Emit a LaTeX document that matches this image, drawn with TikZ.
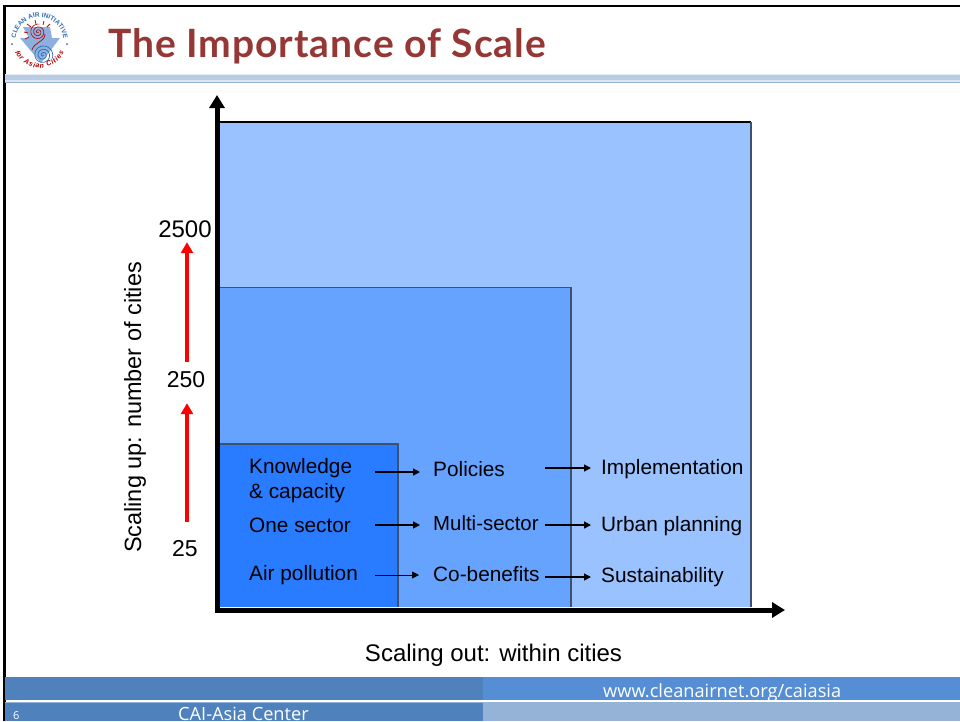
\documentclass[tikz,border=0pt]{standalone}
\usepackage{fontspec}
\setmainfont{Liberation Sans}
\newfontfamily\titlefont[LetterSpace=2.5]{Lato}
\newfontfamily\footfont{Open Sans}
\usetikzlibrary{arrows.meta,decorations.text}
\definecolor{titlered}{HTML}{953735}
\definecolor{barblue}{HTML}{B8CCE4}
\definecolor{footblue}{HTML}{4F81BD}
\definecolor{footmid}{HTML}{558ED5}
\definecolor{footpale}{HTML}{95B3D7}
\definecolor{boxlarge}{HTML}{99C2FF}
\definecolor{boxmid}{HTML}{66A3FF}
\definecolor{boxsmall}{HTML}{297BFF}
\definecolor{boxedge}{HTML}{3D5170}
\definecolor{logoblue}{HTML}{2F6DB5}
\definecolor{logopale}{HTML}{8DB0DE}
\tikzset{
  scalebox/.style={
    % The shape:
    rectangle,anchor=south west,
    inner sep=0pt,outer sep=0pt},
  label/.style={
    inner sep=0pt,anchor=west,
    font=\fontsize{20.8}{25}\selectfont,
    text height=15pt,text depth=3pt},
  axislabel/.style={
    inner sep=0pt,
    font=\fontsize{24}{28}\selectfont,
    text height=16pt,text depth=4pt},
  count/.style={
    inner sep=0pt,
    font=\fontsize{23}{26}\selectfont,
    text height=16pt,text depth=2pt},
  footer/.style={
    inner sep=0pt,text=white,
    font=\footfont\fontsize{18.2}{20}\selectfont}
}
\begin{document}
\begin{tikzpicture}[x=1pt,y=-1pt,point/.style={coordinate},
                    tip/.style={-{Triangle[width=7pt,length=7pt]},line width=1.4pt},
                    redtip/.style={-{Triangle[width=12pt,length=11pt]},line width=4pt,red},
                    axis/.style={-{Triangle[width=15pt,length=13pt]},line width=5pt}]
  \useasboundingbox (0,0) rectangle (960,721);

  % slide frame and header
  \node (frametop)  [point] at (3,6) {};
  \node (framecorn) [point] at (960,6) {};
  \node (framebot)  [point] at (4,721) {};
  \fill[white] (0,0) rectangle (960,721);
  \draw[line width=2.5pt] (frametop) -- (framecorn);
  \draw[line width=3pt] (4,5) -- (framebot);
  \fill[barblue!40] (5,74) rectangle (960,75);
  \fill[barblue] (5,75) rectangle (960,80);
  \fill[barblue!50] (5,80) rectangle (960,82);
  \fill[footpale] (5,82) rectangle (960,83);
  \node (title) [anchor=base west,inner sep=0pt,text=titlered,
                 font=\titlefont\bfseries\fontsize{39}{44}\selectfont] at (108,57.5) {The Importance of Scale};

  % logo
  \fill[logopale] (23,27) -- (50,27) -- (52,38) -- (60,38) -- (41,63) -- (20,38) -- (29,38) -- cycle;
  \draw[red!70!black,line width=.6pt,domain=0:1000,samples=70,smooth,variable=\t]
    plot ({38+\t/1000*8*cos(\t)},{32+\t/1000*8*sin(\t)});
  \draw[red!70!black,line width=.7pt] (45,34) .. controls (45,42) and (34,42) .. (32,50);
  \draw[logoblue,line width=.7pt,domain=0:1100,samples=70,smooth,variable=\t]
    plot ({43+\t/1100*10*cos(\t)},{55+\t/1100*10*sin(\t)});
  \draw[red!70!black,line width=.8pt] (27,24) -- (31,27) (35,20) -- (36,24) (44,21) -- (43,25) (50,24) -- (47,27) (24,32) -- (28,33) (25,39) -- (29,37);
  \path[decorate,decoration={text along path,text align=center,text color=logoblue,
        text={|\bfseries\fontsize{6.5}{8}\selectfont|CLEAN AIR INITIATIVE}}]
    (15.9,45.2) arc[start angle=190,end angle=-10,radius=24pt];
  \path[decorate,decoration={text along path,text align={fit to path},text color=red!70!black,
        text={|\bfseries\itshape\fontsize{7}{8}\selectfont|for Asian Cities}}]
    (14.8,52) arc[start angle=204,end angle=335,radius=27pt];
  \fill[logoblue] (12,44) circle (1pt) (67,44) circle (1pt);

  % nested squares
  \node (large) [scalebox,fill=boxlarge,minimum width=532pt,minimum height=485pt] at (219,607) {};
  \node (mid)   [scalebox,fill=boxmid,minimum width=352pt,minimum height=320pt] at (219,607) {};
  \node (small) [scalebox,fill=boxsmall,minimum width=179pt,minimum height=163pt] at (219,607) {};
  \draw[line width=2pt] (large.north west) -- (large.north east);
  \draw[boxedge,line width=2pt] (large.north east) -- (large.south east);
  \draw[boxedge,line width=.8pt] (mid.north west) -- (mid.north east);
  \draw[boxedge,line width=2pt] (mid.north east) -- (mid.south east);
  \draw[boxedge,line width=1.2pt] (small.north west) -- (small.north east) -- (small.south east);

  % axes
  \node (origin) [point] at (217,610) {};
  \node (ytop)   [point] at (217,95) {};
  \node (xend)   [point] at (785,610) {};
  \draw[axis] (origin) -- (ytop);
  \draw[axis] (214.5,610) -- (xend);
  \node (xlabel) [axislabel] at (493.5,655) {Scaling out: within cities};
  \node (ylabel) [axislabel,rotate=90,font=\fontsize{23.5}{26}\selectfont] at (135,407.5) {Scaling up: number of cities};

  % counts
  \node (c2500) [count,font=\fontsize{24}{26}\selectfont] at (185,230) {2500};
  \node (c250)  [count] at (186,380) {250};
  \node (c25)   [count] at (185,549) {25};
  \draw[redtip,shorten <=9pt,shorten >=3pt] ([xshift=1pt]c250.north) -- ([xshift=2pt]c2500.south);
  \draw[redtip,shorten <=18pt,shorten >=14pt] ([xshift=2pt]c25.north) -- ([xshift=1pt]c250.south);

  % labels inside the squares
  \node (knowledge) [label,align=left,text height=,text depth=] at (249,481) {Knowledge\\\& capacity};
  \node (onesector) [label] at (249,526) {One sector};
  \node (airpoll)   [label] at (249,574) {Air pollution};
  \node (policies)  [label] at (433,470) {Policies};
  \node (multi)     [label,font=\fontsize{20.4}{25}\selectfont] at (433,524) {Multi-sector};
  \node (cobenefit) [label] at (433,575) {Co-benefits};
  \node (implement) [label] at (601,468) {Implementation};
  \node (urban)     [label] at (601,525) {Urban planning};
  \node (sustain)   [label] at (601,576.5) {Sustainability};

  \node (p1) [point] at (375,472) {};
  \node (p2) [point] at (375,525) {};
  \node (p3) [point] at (375,575) {};
  \draw[tip,shorten >=13pt] (p1) -- (p1 -| policies.west);
  \draw[tip,shorten >=13pt] (p2) -- (p2 -| multi.west);
  \draw[tip,shorten >=14pt,line width=.8pt] (p3) -- (p3 -| cobenefit.west);
  \node (p4) [point] at (545,468) {};
  \node (p5) [point] at (545,525) {};
  \node (p6) [point] at (545,577) {};
  \draw[tip,shorten >=10pt] (p4) -- (p4 -| implement.west);
  \draw[tip,shorten >=10pt] (p5) -- (p5 -| urban.west);
  \draw[tip,shorten >=10pt] (p6) -- (p6 -| sustain.west);

  % footer
  \fill[footblue] (5,677) rectangle (483,700);
  \fill[footmid] (483,677) rectangle (960,700);
  \fill[footpale] (5,702) rectangle (483,703);
  \fill[footblue] (5,703) rectangle (483,721);
  \fill[footpale] (483,702) rectangle (960,721);
  \node (website) [footer,anchor=base west] at (603,697) {www.cleanairnet.org/caiasia};
  \node (center)  [footer,anchor=base west] at (178,720.5) {CAI-Asia Center};
  \node (page)    [footer,anchor=base west,font=\footfont\fontsize{11}{12}\selectfont] at (13,719) {6};
\end{tikzpicture}
\end{document}
